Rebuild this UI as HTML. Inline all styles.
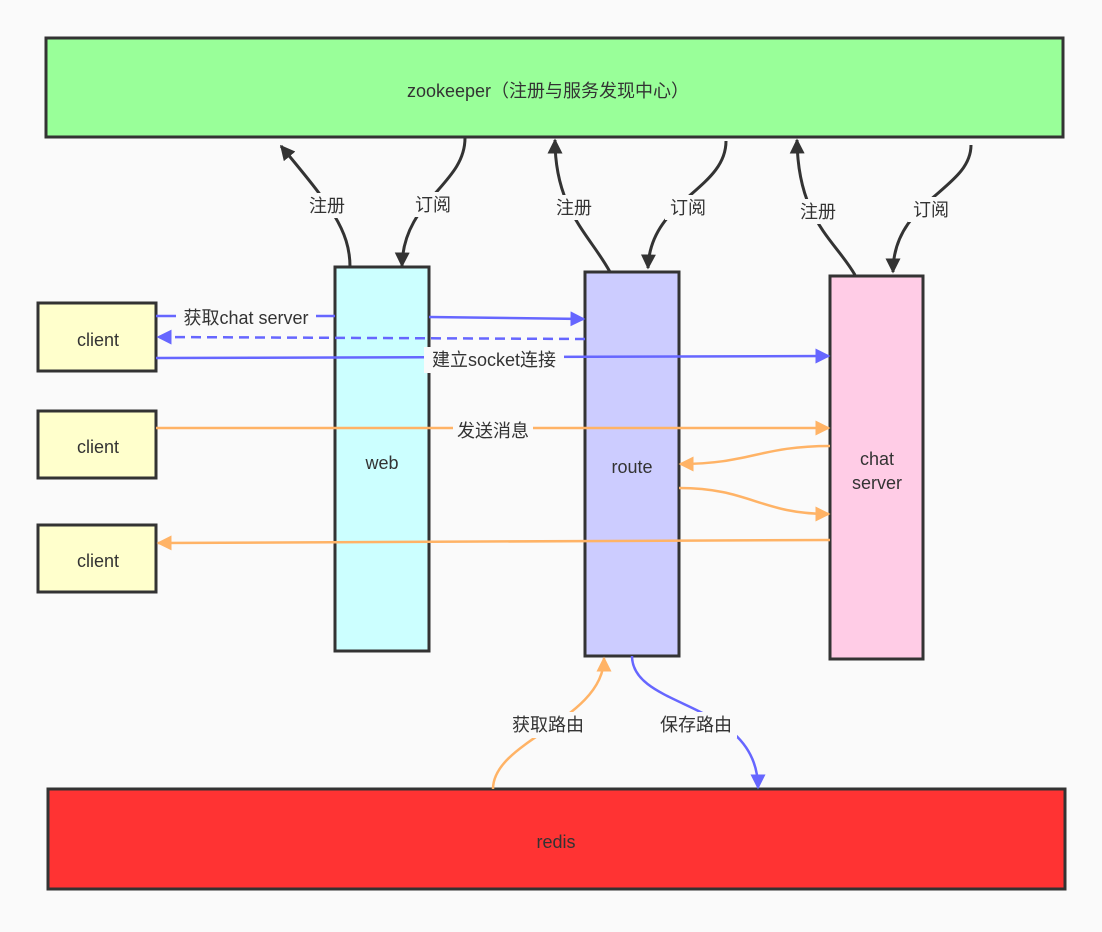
<!DOCTYPE html>
<html><head><meta charset="utf-8"><style>
body{margin:0;background:#fafafa}
text{font-family:"Liberation Sans","Noto Sans CJK SC",sans-serif;font-size:18px;fill:#333}
</style></head><body>
<svg width="1102" height="927" xmlns="http://www.w3.org/2000/svg">
<defs>
<marker id="ak" viewBox="0 0 10 10" refX="9" refY="5" markerWidth="5" markerHeight="5" orient="auto" markerUnits="strokeWidth"><path d="M0,0 L10,5 L0,10 z" fill="#333"/></marker>
<marker id="ab" viewBox="0 0 10 10" refX="9" refY="5" markerWidth="6" markerHeight="6" orient="auto" markerUnits="strokeWidth"><path d="M0,0 L10,5 L0,10 z" fill="#6666ff"/></marker>
<marker id="ao" viewBox="0 0 10 10" refX="9" refY="5" markerWidth="6" markerHeight="6" orient="auto" markerUnits="strokeWidth"><path d="M0,0 L10,5 L0,10 z" fill="#ffb366"/></marker>
</defs>
<rect width="1102" height="927" fill="#fafafa"/>
<g stroke="#333" stroke-width="3">
<rect x="46" y="38" width="1017" height="99" fill="#99ff99"/>
<rect x="335" y="267" width="94" height="384" fill="#ccffff"/>
<rect x="585" y="272" width="94" height="384" fill="#ccccff"/>
<rect x="830" y="276" width="93" height="383" fill="#ffcce6"/>
<rect x="38" y="303" width="118" height="68" fill="#ffffcc"/>
<rect x="38" y="411" width="118" height="67" fill="#ffffcc"/>
<rect x="38" y="525" width="118" height="67" fill="#ffffcc"/>
<rect x="48" y="789" width="1017" height="100" fill="#ff3333"/>
</g>
<g fill="none" stroke="#333" stroke-width="3" marker-end="url(#ak)">
<path d="M350,267 C350,230 330,205 281,146"/>
<path d="M465,138 C465,185 403,200 402,266"/>
<path d="M610,272 C590,235 555,210 555,140"/>
<path d="M726,141 C726,190 650,200 648,268"/>
<path d="M855,275 C835,240 798,220 797,140"/>
<path d="M971,145 C971,190 893,200 893,272"/>
</g>
<g fill="none" stroke="#6666ff" stroke-width="2.5">
<path d="M156,316 L335,316"/>
<path d="M429,317 L584,319" marker-end="url(#ab)"/>
<path d="M585,339 L158,337" stroke-dasharray="10,6" marker-end="url(#ab)"/>
<path d="M156,358 L829,356" marker-end="url(#ab)"/>
<path d="M632,656 C632,710 758,700 758,788" marker-end="url(#ab)"/>
</g>
<g fill="none" stroke="#ffb366" stroke-width="2.5">
<path d="M156,428 L829,428" marker-end="url(#ao)"/>
<path d="M830,446 C760,446 750,464 680,464" marker-end="url(#ao)"/>
<path d="M679,488 C750,488 760,514 829,514" marker-end="url(#ao)"/>
<path d="M830,540 L158,543" marker-end="url(#ao)"/>
<path d="M493,789 C493,740 604,720 604,658" marker-end="url(#ao)"/>
</g>
<g fill="#fafafa">
<rect x="303" y="193" width="48" height="25"/><rect x="410" y="192" width="46" height="25"/>
<rect x="551" y="195" width="46" height="25"/><rect x="665" y="195" width="46" height="25"/>
<rect x="795" y="199" width="46" height="25"/><rect x="908" y="197" width="46" height="25"/>
<rect x="176" y="304" width="140" height="26"/><rect x="424" y="347" width="140" height="26"/>
<rect x="453" y="417" width="80" height="26"/>
<rect x="507" y="712" width="82" height="26"/><rect x="655" y="712" width="82" height="26"/>
</g>
<g text-anchor="middle">
<text x="548" y="97">zookeeper（注册与服务发现中心）</text>
<text x="327" y="212">注册</text><text x="433" y="211">订阅</text>
<text x="574" y="214">注册</text><text x="688" y="214">订阅</text>
<text x="818" y="218">注册</text><text x="931" y="216">订阅</text>
<text x="246" y="324">获取chat server</text>
<text x="494" y="366">建立socket连接</text>
<text x="493" y="437">发送消息</text>
<text x="98" y="346">client</text><text x="98" y="453">client</text><text x="98" y="567">client</text>
<text x="382" y="469">web</text>
<text x="632" y="473">route</text>
<text x="877" y="465">chat</text><text x="877" y="489">server</text>
<text x="548" y="731">获取路由</text><text x="696" y="731">保存路由</text>
<text x="556" y="848">redis</text>
</g>
</svg>
</body></html>
